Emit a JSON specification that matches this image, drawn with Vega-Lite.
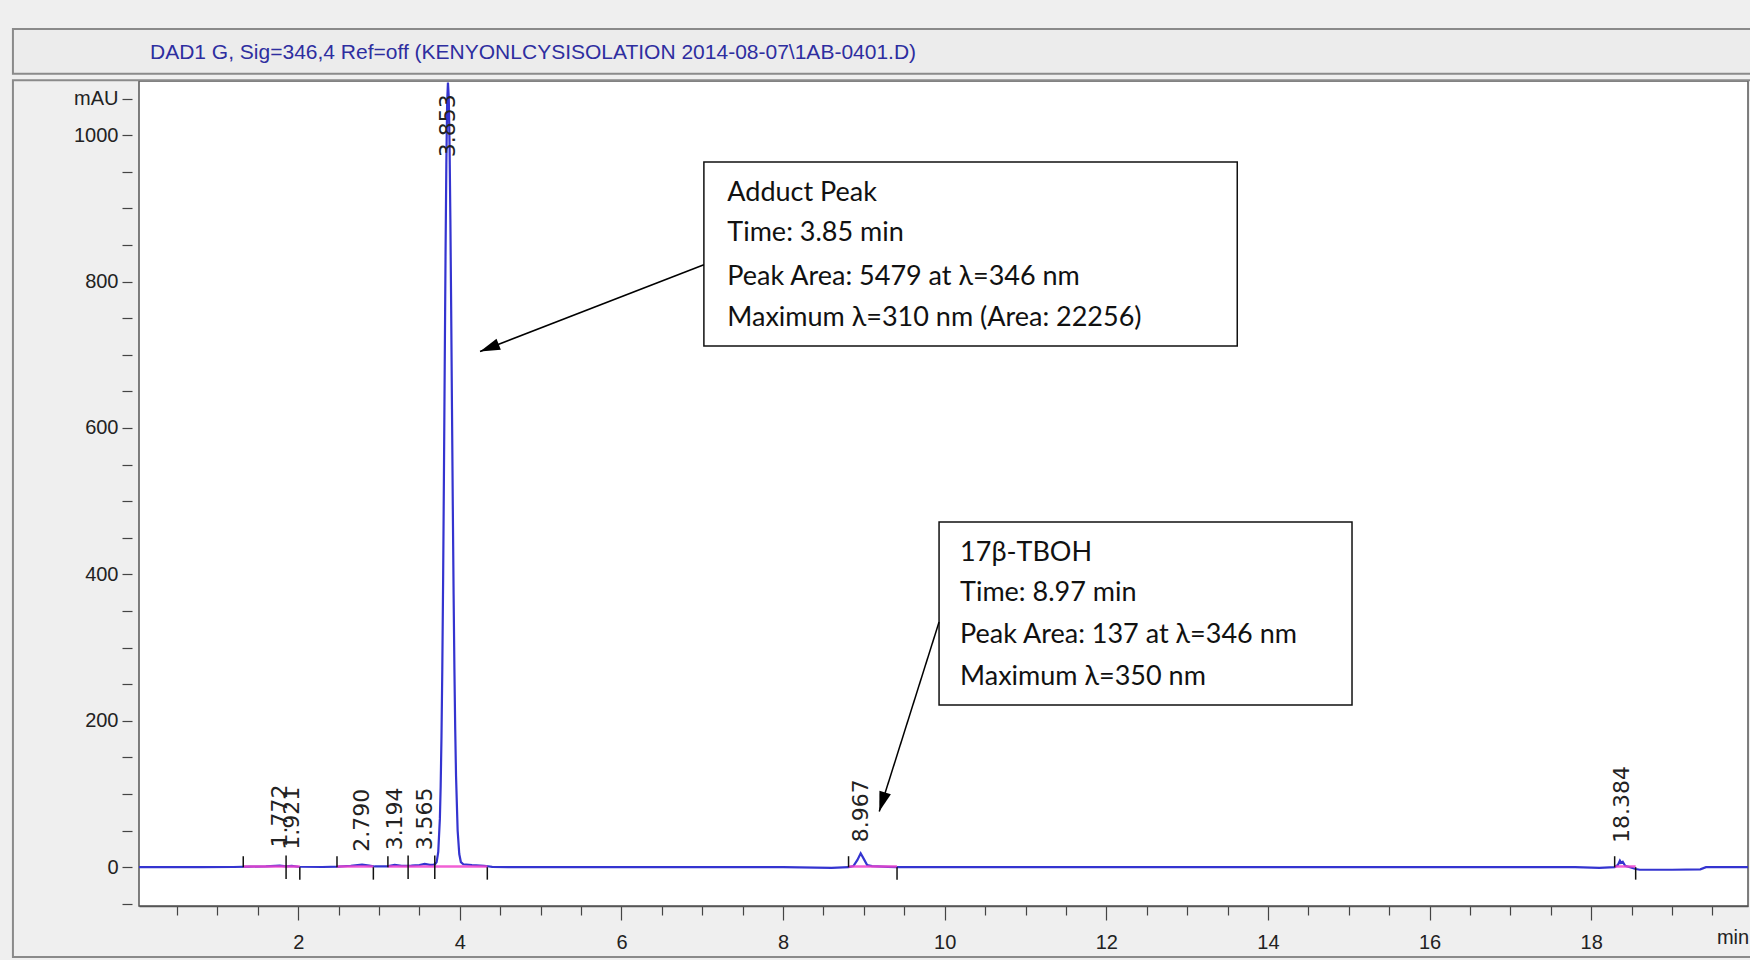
{
  "$schema": "https://vega.github.io/schema/vega-lite/v6.json",
  "width": 1609,
  "height": 825,
  "autosize": {"type": "none"},
  "padding": {"left": 139, "top": 81, "right": 2, "bottom": 54},
  "background": "#efefef",
  "view": {"fill": "white", "stroke": "#555555", "strokeWidth": 1.5},
  "config": {"font": "Liberation Sans"},
  "title": {
    "text": "DAD1 G, Sig=346,4 Ref=off (KENYONLCYSISOLATION 2014-08-07\\1AB-0401.D)",
    "anchor": "start",
    "frame": "group",
    "font": "Liberation Sans",
    "fontSize": 21,
    "fontWeight": "normal",
    "color": "#2e2ea0",
    "baseline": "alphabetic",
    "offset": 24,
    "dx": 11,
    "dy": 76
  },
  "datasets": {
    "trace": [
      {"t": 0.03, "v": 0}, {"t": 0.8, "v": 0}, {"t": 1.2, "v": 0.3}, {"t": 1.4, "v": 0.8}, {"t": 1.6, "v": 1.2},
      {"t": 1.772, "v": 2.2}, {"t": 1.85, "v": 1.2}, {"t": 1.921, "v": 1.8}, {"t": 2.0, "v": 0.6}, {"t": 2.3, "v": 0.3},
      {"t": 2.5, "v": 0.8}, {"t": 2.65, "v": 2}, {"t": 2.79, "v": 3.5}, {"t": 2.88, "v": 2.2}, {"t": 2.95, "v": 1},
      {"t": 3.1, "v": 1.2}, {"t": 3.194, "v": 3.2}, {"t": 3.28, "v": 2}, {"t": 3.4, "v": 2.2}, {"t": 3.5, "v": 3},
      {"t": 3.565, "v": 4.5}, {"t": 3.63, "v": 3.2}, {"t": 3.673, "v": 3.5}, {"t": 3.693, "v": 4}, {"t": 3.713, "v": 7},
      {"t": 3.733, "v": 21}, {"t": 3.753, "v": 66}, {"t": 3.763, "v": 111}, {"t": 3.773, "v": 178}, {"t": 3.783, "v": 270},
      {"t": 3.793, "v": 389}, {"t": 3.803, "v": 531}, {"t": 3.813, "v": 684}, {"t": 3.823, "v": 834}, {"t": 3.833, "v": 960},
      {"t": 3.843, "v": 1045}, {"t": 3.853, "v": 1072}, {"t": 3.863, "v": 1052}, {"t": 3.873, "v": 986}, {"t": 3.883, "v": 885},
      {"t": 3.893, "v": 761}, {"t": 3.903, "v": 626}, {"t": 3.913, "v": 494}, {"t": 3.923, "v": 373}, {"t": 3.933, "v": 270},
      {"t": 3.943, "v": 188}, {"t": 3.953, "v": 125}, {"t": 3.973, "v": 50}, {"t": 3.993, "v": 18}, {"t": 4.013, "v": 7},
      {"t": 4.043, "v": 4}, {"t": 4.15, "v": 3}, {"t": 4.3, "v": 2}, {"t": 4.4, "v": 0.5}, {"t": 4.6, "v": 0},
      {"t": 6.0, "v": 0}, {"t": 8.0, "v": 0}, {"t": 8.6, "v": -0.8}, {"t": 8.81, "v": 0}, {"t": 8.87, "v": 1.5},
      {"t": 8.92, "v": 10}, {"t": 8.96, "v": 19}, {"t": 9.0, "v": 11}, {"t": 9.04, "v": 3}, {"t": 9.1, "v": 1.5},
      {"t": 9.3, "v": 0.5}, {"t": 9.41, "v": 0}, {"t": 12.0, "v": 0}, {"t": 15.0, "v": 0}, {"t": 17.8, "v": 0},
      {"t": 18.1, "v": -0.8}, {"t": 18.29, "v": 0}, {"t": 18.33, "v": 3}, {"t": 18.355, "v": 9}, {"t": 18.37, "v": 6},
      {"t": 18.39, "v": 7.5}, {"t": 18.42, "v": 2}, {"t": 18.48, "v": 0}, {"t": 18.55, "v": -2.5}, {"t": 18.6, "v": -3.5},
      {"t": 19.0, "v": -3.5}, {"t": 19.35, "v": -3}, {"t": 19.42, "v": 0}, {"t": 19.94, "v": 0}
    ],
    "baselines": [
      {"start": 1.32, "end": 2.02}, {"start": 2.48, "end": 2.93}, {"start": 3.11, "end": 4.34},
      {"start": 8.81, "end": 9.41}, {"start": 18.29, "end": 18.55}
    ],
    "events": [
      {"t": 1.32, "lo": 0, "hi": 15}, {"t": 1.85, "lo": -16, "hi": 16}, {"t": 2.02, "lo": -17, "hi": 0},
      {"t": 2.48, "lo": 0, "hi": 15}, {"t": 2.93, "lo": -17, "hi": 0}, {"t": 3.11, "lo": 0, "hi": 15},
      {"t": 3.36, "lo": -16, "hi": 16}, {"t": 3.69, "lo": -16, "hi": 16}, {"t": 4.34, "lo": -17, "hi": 0},
      {"t": 8.81, "lo": 0, "hi": 15}, {"t": 9.41, "lo": -17, "hi": 0}, {"t": 18.29, "lo": 0, "hi": 15},
      {"t": 18.55, "lo": -17, "hi": 0}
    ],
    "labels": [
      {"t": 1.772, "v": 27, "lab": "1.772"}, {"t": 1.921, "v": 24, "lab": "1.921"},
      {"t": 2.79, "v": 21, "lab": "2.790"}, {"t": 3.194, "v": 23, "lab": "3.194"},
      {"t": 3.565, "v": 23, "lab": "3.565"}, {"t": 3.853, "v": 970, "lab": "3.853"},
      {"t": 8.967, "v": 34, "lab": "8.967"}, {"t": 18.384, "v": 33, "lab": "18.384"}
    ],
    "boxes": [
      {"x1": 7.02, "x2": 13.62, "y1": 963.4, "y2": 712},
      {"x1": 9.93, "x2": 15.04, "y1": 471.6, "y2": 221.6}
    ],
    "notes": [
      {"t": 7.31, "v": 921, "text": "Adduct Peak"},
      {"t": 7.31, "v": 866, "text": "Time: 3.85 min"},
      {"t": 7.31, "v": 806, "text": "Peak Area: 5479 at λ=346 nm"},
      {"t": 7.31, "v": 750, "text": "Maximum λ=310 nm (Area: 22256)"},
      {"t": 10.19, "v": 429, "text": "17β-TBOH"},
      {"t": 10.19, "v": 374.6, "text": "Time: 8.97 min"},
      {"t": 10.19, "v": 317, "text": "Peak Area: 137 at λ=346 nm"},
      {"t": 10.19, "v": 260, "text": "Maximum λ=350 nm"}
    ],
    "arrows": [
      {"id": "a1", "x1": 7.02, "y1": 823, "x2": 4.25, "y2": 704.5},
      {"id": "a2", "x1": 9.93, "y1": 335, "x2": 9.19, "y2": 76}
    ]
  },
  "layer": [
    {
      "data": {"name": "trace"},
      "mark": {"type": "line", "clip": true, "color": "#3434d0", "strokeWidth": 2.2},
      "encoding": {
        "x": {
          "field": "t", "type": "quantitative",
          "scale": {"domain": [0.03, 19.94], "nice": false, "zero": false},
          "axis": {
            "title": null,
            "grid": false,
            "values": [0.5, 1, 1.5, 2, 2.5, 3, 3.5, 4, 4.5, 5, 5.5, 6, 6.5, 7, 7.5, 8, 8.5, 9, 9.5, 10, 10.5, 11, 11.5, 12, 12.5, 13, 13.5, 14, 14.5, 15, 15.5, 16, 16.5, 17, 17.5, 18, 18.5, 19, 19.5],
            "tickCount": 200,
            "labelExpr": "datum.value == 19.5 ? 'min' : (datum.value % 2 == 0 ? '' + datum.value : '')",
            "tickSize": {"condition": {"test": "datum.value % 2 == 0", "value": 14}, "value": 9},
            "labelAlign": {"condition": {"test": "datum.value == 19.5", "value": "left"}, "value": "center"},
            "labelOffset": {"condition": {"test": "datum.value == 19.5", "value": 4}, "value": 0},
            "labelPadding": 12,
            "labelFont": "Liberation Sans",
            "labelFontSize": 20,
            "labelColor": "#222222",
            "labelFlush": false,
            "labelOverlap": false,
            "tickColor": "#444444",
            "tickWidth": 1.2,
            "domainColor": "#555555",
            "domainWidth": 1.5
          }
        },
        "y": {
          "field": "v", "type": "quantitative",
          "scale": {"domain": [-53, 1074], "nice": false, "zero": false},
          "axis": {
            "title": null,
            "grid": false,
            "domain": false,
            "offset": 7,
            "values": [-50, 0, 50, 100, 150, 200, 250, 300, 350, 400, 450, 500, 550, 600, 650, 700, 750, 800, 850, 900, 950, 1000, 1050],
            "tickCount": 200,
            "labelExpr": "datum.value == 1050 ? 'mAU' : (datum.value >= 0 && datum.value % 200 == 0 ? '' + datum.value : '')",
            "tickSize": 10,
            "labelPadding": 4,
            "labelFont": "Liberation Sans",
            "labelFontSize": 20,
            "labelColor": "#222222",
            "labelFlush": false,
            "labelOverlap": false,
            "tickColor": "#444444",
            "tickWidth": 1.2
          }
        }
      }
    },
    {
      "data": {"name": "baselines"},
      "mark": {"type": "rule", "clip": true, "color": "#ee44cc", "strokeWidth": 2.5, "opacity": 0.85},
      "encoding": {
        "x": {"field": "start", "type": "quantitative"},
        "x2": {"field": "end"},
        "y": {"datum": 1, "type": "quantitative"}
      }
    },
    {
      "data": {"name": "events"},
      "mark": {"type": "rule", "clip": true, "color": "#111111", "strokeWidth": 1.5},
      "encoding": {
        "x": {"field": "t", "type": "quantitative"},
        "y": {"field": "lo", "type": "quantitative"},
        "y2": {"field": "hi"}
      }
    },
    {
      "data": {"name": "labels"},
      "mark": {"type": "text", "clip": false, "angle": 270, "align": "left", "baseline": "middle", "font": "DejaVu Sans", "fontSize": 22, "color": "#222222"},
      "encoding": {
        "x": {"field": "t", "type": "quantitative"},
        "y": {"field": "v", "type": "quantitative"},
        "text": {"field": "lab"}
      }
    },
    {
      "data": {"name": "boxes"},
      "mark": {"type": "rect", "clip": false, "fill": "white", "stroke": "#111111", "strokeWidth": 1.5},
      "encoding": {
        "x": {"field": "x1", "type": "quantitative"},
        "x2": {"field": "x2"},
        "y": {"field": "y1", "type": "quantitative"},
        "y2": {"field": "y2"}
      }
    },
    {
      "data": {"name": "notes"},
      "mark": {"type": "text", "clip": false, "align": "left", "baseline": "middle", "font": "Lato", "fontSize": 27, "color": "#111111"},
      "encoding": {
        "x": {"field": "t", "type": "quantitative"},
        "y": {"field": "v", "type": "quantitative"},
        "text": {"field": "text"}
      }
    },
    {
      "data": {"name": "arrows"},
      "mark": {"type": "rule", "clip": false, "color": "#000000", "strokeWidth": 1.5},
      "encoding": {
        "x": {"field": "x1", "type": "quantitative"},
        "y": {"field": "y1", "type": "quantitative"},
        "x2": {"field": "x2"},
        "y2": {"field": "y2"}
      }
    },
    {
      "data": {"name": "arrows"},
      "transform": [{"filter": "datum.id == 'a1'"}],
      "mark": {"type": "point", "clip": false, "shape": "M0,0L0.6,2L-0.6,2Z", "filled": true, "color": "#000000", "opacity": 1, "size": 400, "angle": 248.8},
      "encoding": {
        "x": {"field": "x2", "type": "quantitative"},
        "y": {"field": "y2", "type": "quantitative"}
      }
    },
    {
      "data": {"name": "arrows"},
      "transform": [{"filter": "datum.id == 'a2'"}],
      "mark": {"type": "point", "clip": false, "shape": "M0,0L0.6,2L-0.6,2Z", "filled": true, "color": "#000000", "opacity": 1, "size": 400, "angle": 197.2},
      "encoding": {
        "x": {"field": "x2", "type": "quantitative"},
        "y": {"field": "y2", "type": "quantitative"}
      }
    },
    {
      "data": {"values": [{"k": 1}]},
      "mark": {"type": "rect", "clip": false, "fill": "#ececec", "stroke": "#8a8a8a", "strokeWidth": 2},
      "encoding": {
        "x": {"datum": -1.53, "type": "quantitative"},
        "x2": {"datum": 20.6},
        "y": {"datum": 1145, "type": "quantitative"},
        "y2": {"datum": 1084}
      }
    },
    {
      "data": {"values": [{"k": 1}]},
      "mark": {"type": "rect", "clip": false, "fill": null, "fillOpacity": 0, "stroke": "#8a8a8a", "strokeWidth": 2},
      "encoding": {
        "x": {"datum": -1.53, "type": "quantitative"},
        "x2": {"datum": 20.6},
        "y": {"datum": 1075, "type": "quantitative"},
        "y2": {"datum": -122.5}
      }
    }
  ]
}
